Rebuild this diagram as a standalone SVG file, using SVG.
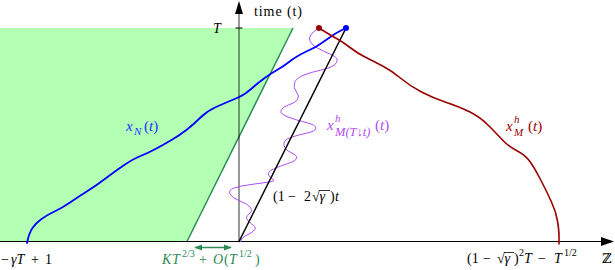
<svg xmlns="http://www.w3.org/2000/svg" width="615" height="270" viewBox="0 0 615 270">
<style>
.t{font-family:"Liberation Serif","DejaVu Serif",serif}
.i{font-style:italic}
.c{fill:none;stroke-linecap:round;stroke-linejoin:round}
</style>
<defs>
<marker id="ga" viewBox="0 0 10 10" refX="9" refY="5" markerWidth="6" markerHeight="6" orient="auto-start-reverse"><path d="M0,1 L10,5 L0,9 z" fill="#2e8b57"/></marker>
</defs>
<g id="region">
<polygon points="0,28 293,28 187,241.5 0,241.5" fill="#b3ffb3"/>
<line x1="293" y1="28" x2="187" y2="241.5" stroke="#2e8b57" stroke-width="1.5"/>
</g>
<g id="axes">
<line x1="239" y1="241.5" x2="239" y2="12" stroke="#000" stroke-opacity="0.4" stroke-width="2"/>
<polygon points="239,1 235,14 243,14" fill="#000"/>
<line x1="235.5" y1="28" x2="242.5" y2="28" stroke="#000" stroke-width="1"/>
<line x1="0" y1="241.5" x2="602" y2="241.5" stroke="#000" stroke-width="1"/>
<polygon points="614,241.5 601,237 601,246" fill="#000"/>
<text class="t" x="254" y="16" style="font-size:14px" textLength="48">time (t)</text>
<text class="t i" x="213" y="33" style="font-size:14px">T</text>
<text class="t" x="602" y="263" style="font-size:13px">ℤ</text>
</g>
<g id="connectors">
<path class="c" stroke="#b04cf5" stroke-width="1" d="M319,28 Q309,34 309.5,39 Q310,44 317.5,48 Q325,52 332,55 Q339,58 336.5,62.5 Q334,67 323,69.5 Q312,72 304,75 Q296,78 294.5,83 Q293,88 296.5,92 Q300,96 297.5,99.5 Q295,103 288.5,105 Q282,107 281,110.5 Q280,114 288,117 Q296,120 306,122.5 Q316,125 316,128 Q316,131 307,133 Q298,135 290.5,137.5 Q283,140 284,145 Q285,150 291,152.5 Q297,155 296.5,158 Q296,161 288,163.5 Q280,166 273.5,169 Q267,172 268.5,175 Q270,178 273,179.5 Q276,181 269,182 Q262,183 251,184.5 Q240,186 234,188 Q228,190 230,194 Q232,198 240,201 Q248,204 250.5,207.5 Q253,211 249,214 Q245,217 247.5,220 Q250,223 253.5,225.5 Q257,228 253.5,231 Q250,234 246,235.5 Q242,237 240,242"/>
<line x1="239" y1="241.5" x2="346" y2="28" stroke="#000" stroke-width="1.5"/>
<path class="c" stroke="#0000ff" stroke-width="1.8" d="M27,243 Q29,233 32.5,228 Q36,223 41.5,219 Q47,215 54.5,211.5 Q62,208 70,202.5 Q78,197 87.5,191 Q97,185 105.5,178.5 Q114,172 123.5,165.5 Q133,159 140.5,156 Q148,153 155.5,149 Q163,145 171.5,140 Q180,135 187,129.5 Q194,124 200.5,117.5 Q207,111 216,107 Q225,103 233.5,99.5 Q242,96 246,93 Q250,90 254,86.5 Q258,83 264,78.5 Q270,74 277,70 Q284,66 289,62 Q294,58 299.5,55 Q305,52 310.5,49.5 Q316,47 321,43.5 Q326,40 331,36.5 Q336,33 341,30.5 L346,28"/>
<path class="c" stroke="#990000" stroke-width="1.6" d="M319,28 Q330,35 336.5,38.5 Q343,42 350,47.5 Q357,53 366,57.5 Q375,62 383.5,66.5 Q392,71 401,78.5 Q410,86 421.5,92 Q433,98 446.5,102.5 Q460,107 470,112 Q480,117 488.5,125.5 Q497,134 502.5,140 Q508,146 516.5,150.5 Q525,155 529.5,161 Q534,167 540.5,179.5 Q547,192 551.5,202 Q556,212 557.5,221 Q559,230 559,236 L559,244"/>
<line x1="195" y1="247.5" x2="231" y2="247.5" stroke="#2e8b57" stroke-width="1.3" marker-start="url(#ga)" marker-end="url(#ga)"/>
</g>
<g id="dots">
<circle cx="319" cy="28" r="3" fill="#990000"/>
<circle cx="346" cy="28" r="3" fill="#0000ff"/>
</g>
<g id="labels">
<text class="t" fill="#1a33ff" style="font-size:15px"><tspan x="126" y="131" class="i">x</tspan><tspan class="i" x="134" y="135" style="font-size:11px">N</tspan><tspan x="144" y="131">(</tspan><tspan class="i">t</tspan><tspan>)</tspan></text>
<text class="t" fill="#b04cf5" style="font-size:15px"><tspan x="327" y="130" class="i">x</tspan><tspan class="i" x="335" y="122" style="font-size:11px">h</tspan><tspan class="i" x="335" y="136" style="font-size:12.5px">M(T↓t)</tspan><tspan x="375" y="130">(</tspan><tspan class="i">t</tspan><tspan>)</tspan></text>
<text class="t" fill="#990000" style="font-size:15px"><tspan x="506" y="131" class="i">x</tspan><tspan class="i" x="514" y="123" style="font-size:11px">h</tspan><tspan class="i" x="514" y="136" style="font-size:11px">M</tspan><tspan x="528" y="131">(</tspan><tspan class="i">t</tspan><tspan>)</tspan></text>
<text class="t" style="font-size:14px"><tspan x="273" y="201">(1</tspan><tspan x="288">−</tspan><tspan x="304">2</tspan><tspan x="312">√</tspan><tspan x="319.5" class="i">γ</tspan><tspan x="330">)</tspan><tspan x="335" class="i">t</tspan></text>
<line x1="319" y1="190.5" x2="330" y2="190.5" stroke="#000" stroke-width="0.8"/>
<text class="t" style="font-size:14px"><tspan x="1" y="264">−</tspan><tspan x="11" class="i">γT</tspan><tspan x="31">+</tspan><tspan x="45">1</tspan></text>
<text class="t" fill="#2e8b57" style="font-size:14px"><tspan x="162" y="264" class="i">K</tspan><tspan x="172" class="i">T</tspan><tspan x="182" y="257" style="font-size:10px">2/3</tspan><tspan x="199" y="264">+</tspan><tspan x="213" class="i">O</tspan><tspan x="224">(</tspan><tspan x="229" class="i">T</tspan><tspan x="239" y="257" style="font-size:10px">1/2</tspan><tspan x="255" y="264">)</tspan></text>
<text class="t" style="font-size:14px"><tspan x="467" y="263">(1</tspan><tspan x="483">−</tspan><tspan x="497">√</tspan><tspan x="504.5" class="i">γ</tspan><tspan x="514">)</tspan><tspan x="519" y="256" style="font-size:10px">2</tspan><tspan x="524" y="263" class="i">T</tspan><tspan x="538">−</tspan><tspan x="554" class="i">T</tspan><tspan x="564" y="256" style="font-size:10px">1/2</tspan></text>
<line x1="504" y1="252.5" x2="514" y2="252.5" stroke="#000" stroke-width="0.8"/>
</g>
</svg>
